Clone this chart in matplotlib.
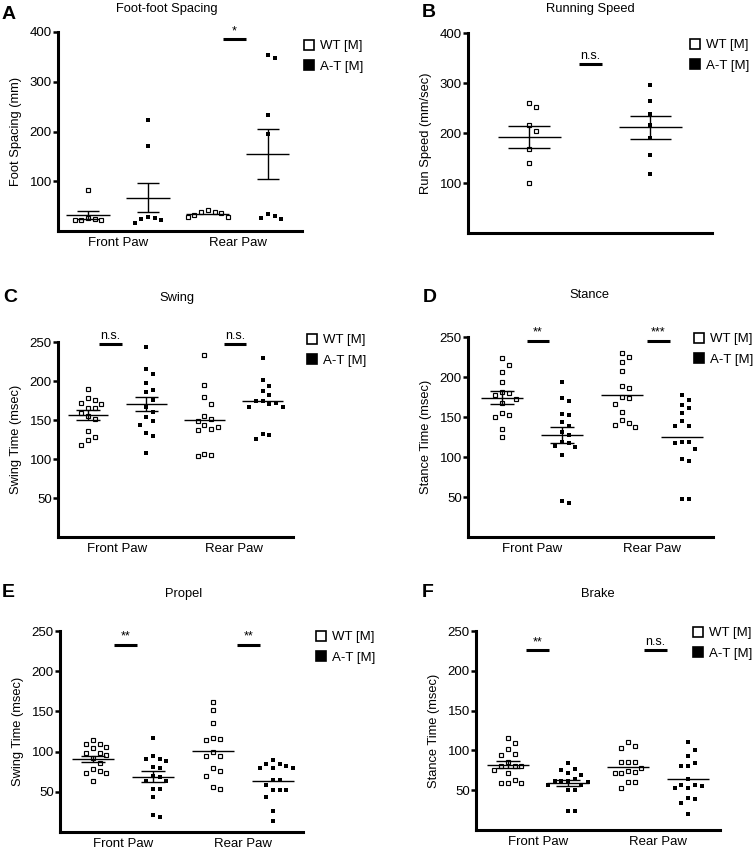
import matplotlib
matplotlib.use("Agg")
import matplotlib.pyplot as plt
from matplotlib.lines import Line2D
import numpy as np

plt.rcParams["font.family"] = ["Liberation Sans", "DejaVu Sans"]
plt.rcParams["font.size"] = 9.3

FIG_W, FIG_H = 755, 848

GROUP_LABELS = ["WT [M]", "A-T [M]"]
PAW_LABELS = ["Front Paw", "Rear Paw"]

# A - foot-foot spacing (mm)
spacing_wt_front = [83, 26, 22, 22, 22, 24]
spacing_at_front = [223, 170, 26, 23, 17, 28, 25]
spacing_wt_rear = [38, 33, 42, 29, 39, 29, 37]
spacing_at_rear = [353, 347, 233, 194, 31, 25, 27, 35]
spacing_means = [33, 67, 35, 155]
spacing_sems = [8, 29, 0, 51]
spacing_sig = ["", "*"]

# B - running speed (mm/sec)
run_wt = [260, 252, 216, 204, 168, 140, 100]
run_at = [296, 264, 238, 216, 190, 156, 118]
run_means = [192, 212]
run_sems = [22, 23]
run_sig = ["n.s."]

# C - swing time (msec)
swing_wt_front = [190, 178, 176, 172, 171, 166, 165, 159, 155, 151, 136, 128, 124, 118]
swing_at_front = [244, 215, 209, 197, 188, 186, 176, 167, 160, 154, 149, 144, 133, 129, 108]
swing_wt_rear = [233, 195, 180, 171, 155, 151, 149, 143, 138, 137, 141, 107, 104, 105]
swing_at_rear = [229, 201, 194, 187, 182, 175, 174, 170, 167, 167, 172, 132, 131, 126]
swing_means = [156.5, 170, 150.5, 175]
swing_sems = [6, 9, 0, 0]
swing_sig = ["n.s.", "n.s."]

# D - stance time (msec)
stance_wt_front = [224, 215, 206, 194, 181, 178, 180, 172, 168, 155, 150, 152, 135, 125]
stance_at_front = [194, 174, 170, 154, 152, 144, 139, 131, 127, 117, 119, 114, 113, 103, 42, 45]
stance_wt_rear = [225, 230, 219, 208, 189, 186, 175, 174, 166, 156, 142, 138, 140, 146]
stance_at_rear = [177, 171, 161, 165, 155, 145, 139, 139, 119, 119, 117, 110, 97, 95, 47, 48]
stance_means = [174, 127.6, 178, 125.5]
stance_sems = [8, 10.5, 0, 0]
stance_sig = ["**", "***"]

# E - propel (msec)
propel_wt_front = [114, 109, 106, 109, 104, 98, 98, 96, 92, 86, 78, 76, 73, 73, 64]
propel_at_front = [117, 95, 91, 91, 88, 81, 79, 70, 64, 64, 68, 54, 53, 44, 19, 21]
propel_wt_rear = [162, 152, 136, 117, 115, 116, 100, 95, 95, 76, 79, 70, 53, 56]
propel_at_rear = [89, 82, 84, 79, 79, 80, 84, 65, 65, 58, 52, 52, 52, 44, 26, 14]
propel_means = [91, 68.7, 101, 64]
propel_sems = [4, 7, 0, 0]
propel_sig = ["**", "**"]

# F - brake (msec)
brake_wt_front = [116, 109, 102, 96, 94, 86, 81, 80, 80, 76, 72, 59, 59, 59, 63]
brake_at_front = [84, 77, 72, 76, 69, 61, 60, 61, 61, 64, 57, 57, 50, 50, 24, 24]
brake_wt_rear = [111, 106, 103, 86, 86, 86, 78, 74, 72, 72, 73, 60, 60, 53]
brake_at_rear = [111, 101, 93, 84, 81, 81, 64, 56, 55, 53, 53, 56, 39, 40, 34, 20]
brake_means = [82, 59, 79.3, 64]
brake_sems = [4.5, 4, 0, 0]
brake_sig = ["**", "n.s."]


def fx(px):
    return px / FIG_W


def fy(py):
    return 1 - py / FIG_H


def swarm_x(ax, x0, values, step=6.7, vsize=8.0):
    """Beeswarm-style x positions, computed in pixel space."""
    pix = ax.transData.transform(np.column_stack([np.full(len(values), x0), values]))
    cx = pix[0, 0]
    placed = []
    xs = np.zeros(len(values))
    for i in np.argsort(values)[::-1]:
        py = pix[i, 1]
        for k in [0, 1, -1, 2, -2, 3, -3, 4, -4]:
            px = cx + k * step
            if all(abs(px - qx) >= step - 0.5 or abs(py - qy) >= vsize for qx, qy in placed):
                break
        placed.append((px, py))
        xs[i] = px
    inv = ax.transData.inverted()
    return inv.transform(np.column_stack([xs, pix[:, 1]]))[:, 0]


PANELS = [
    dict(letter="A", title="Foot-foot Spacing", ylabel="Foot Spacing (mm)",
         groups=[spacing_wt_front, spacing_at_front, spacing_wt_rear, spacing_at_rear],
         means=spacing_means, sems=spacing_sems, sig=spacing_sig,
         box=(58, 32, 302, 231), xlim=(0.5, 4.57), ylim=(0, 400), yticks=[100, 200, 300, 400],
         letter_xy=(2, 6), title_xy=(167, 9), legend_xy=(302, 40),
         sig_pos=[None, (3.25, 3.63, 385)], hw=0.36, cw=0.18),
    dict(letter="B", title="Running Speed", ylabel="Run Speed (mm/sec)",
         groups=[run_wt, run_at], means=run_means, sems=run_sems, sig=run_sig,
         box=(468, 33, 712, 233), xlim=(0.496, 2.51), ylim=(0, 400), yticks=[100, 200, 300, 400],
         letter_xy=(422, 4), title_xy=(590, 9), legend_xy=(688, 39),
         sig_pos=[(1.415, 1.6, 338)], hw=0.26, cw=0.17),
    dict(letter="C", title="Swing", ylabel="Swing Time (msec)",
         groups=[swing_wt_front, swing_at_front, swing_wt_rear, swing_at_rear],
         means=swing_means, sems=swing_sems, sig=swing_sig,
         box=(58, 342, 293, 537), xlim=(0.485, 4.52), ylim=(0, 250), yticks=[50, 100, 150, 200, 250],
         letter_xy=(3, 289), title_xy=(177, 298), legend_xy=(305, 334),
         sig_pos=[(1.19, 1.58, 247), (3.34, 3.72, 247)], hw=0.35, cw=0.2),
    dict(letter="D", title="Stance", ylabel="Stance Time (msec)",
         groups=[stance_wt_front, stance_at_front, stance_wt_rear, stance_at_rear],
         means=stance_means, sems=stance_sems, sig=stance_sig,
         box=(468, 337, 713, 537), xlim=(0.43, 4.52), ylim=(0, 250), yticks=[50, 100, 150, 200, 250],
         letter_xy=(423, 289), title_xy=(589, 295), legend_xy=(692, 333),
         sig_pos=[(1.42, 1.78, 245), (3.42, 3.8, 245)], hw=0.35, cw=0.2),
    dict(letter="E", title="Propel", ylabel="Swing Time (msec)",
         groups=[propel_wt_front, propel_at_front, propel_wt_rear, propel_at_rear],
         means=propel_means, sems=propel_sems, sig=propel_sig,
         box=(60, 631, 303, 832), xlim=(0.45, 4.5), ylim=(0, 250), yticks=[50, 100, 150, 200, 250],
         letter_xy=(2, 584), title_xy=(184, 594), legend_xy=(314, 631),
         sig_pos=[(1.35, 1.73, 232.6), (3.4, 3.78, 232.6)], hw=0.35, cw=0.2),
    dict(letter="F", title="Brake", ylabel="Stance Time (msec)",
         groups=[brake_wt_front, brake_at_front, brake_wt_rear, brake_at_rear],
         means=brake_means, sems=brake_sems, sig=brake_sig,
         box=(476, 631, 720, 830), xlim=(0.47, 4.53), ylim=(0, 250), yticks=[50, 100, 150, 200, 250],
         letter_xy=(422, 584), title_xy=(598, 594), legend_xy=(691, 627),
         sig_pos=[(1.3, 1.68, 226), (3.27, 3.65, 226)], hw=0.35, cw=0.2),
]


def draw_panel(fig, p):
    l, t, r, b = p["box"]
    ax = fig.add_axes([fx(l), fy(b), (r - l) / FIG_W, (b - t) / FIG_H])
    ax.set_xlim(*p["xlim"])
    ax.set_ylim(*p["ylim"])
    ax.set_yticks(p["yticks"])
    for side in ["top", "right"]:
        ax.spines[side].set_visible(False)
    for side in ["left", "bottom"]:
        ax.spines[side].set_linewidth(2.2)
    ax.tick_params(axis="y", direction="out", length=3.5, width=1.8, pad=1, labelsize=9.5)
    ax.tick_params(axis="x", length=0, pad=4, labelsize=9.5)
    if len(p["groups"]) == 4:
        ax.set_xticks([1.5, 3.5])
        ax.set_xticklabels(PAW_LABELS)
    else:
        ax.set_xticks([])

    for i, vals in enumerate(p["groups"]):
        pos = i + 1
        filled = i % 2 == 1
        xs = swarm_x(ax, pos, vals)
        if filled:
            ax.plot(xs, vals, "s", ms=3.4, mfc="black", mec="black", mew=0, zorder=2, clip_on=False)
        else:
            ax.plot(xs, vals, "s", ms=3.2, mfc="white", mec="black", mew=0.85, zorder=2, clip_on=False)
        m, s = p["means"][i], p["sems"][i]
        ax.hlines(m, pos - p["hw"], pos + p["hw"], color="black", lw=1.0, zorder=3)
        if s > 0:
            ax.vlines(pos, m - s, m + s, color="black", lw=1.0, zorder=3)
            ax.hlines([m - s, m + s], pos - p["cw"], pos + p["cw"], color="black", lw=1.0, zorder=3)

    for label, sp in zip(p["sig"], p["sig_pos"]):
        if not label or sp is None:
            continue
        x0, x1, y = sp
        ax.plot([x0, x1], [y, y], color="black", lw=2.2, solid_capstyle="butt", clip_on=False)
        ax.annotate(label, xy=((x0 + x1) / 2, y), xytext=(0, 1.5), textcoords="offset points",
                    ha="center", va="bottom", fontsize=9)

    ax.set_ylabel(p["ylabel"], fontsize=9.3)
    ax.yaxis.set_label_coords(-36 / (r - l), 0.5)

    handles = [
        Line2D([], [], marker="s", ls="none", ms=7, mfc="white", mec="black", mew=1.2),
        Line2D([], [], marker="s", ls="none", ms=7, mfc="black", mec="black", mew=1.2),
    ]
    lx, ly = p["legend_xy"]
    ax.legend(handles, GROUP_LABELS, loc="upper left", bbox_to_anchor=(fx(lx), fy(ly)),
              bbox_transform=fig.transFigure, frameon=False, borderpad=0, borderaxespad=0,
              handlelength=1.0, handletextpad=0.4, labelspacing=0.64, fontsize=9.5)

    fig.text(fx(p["letter_xy"][0]), fy(p["letter_xy"][1]), p["letter"],
             fontsize=14, fontweight="bold", ha="left", va="top")
    fig.text(fx(p["title_xy"][0]), fy(p["title_xy"][1]), p["title"],
             fontsize=9.3, ha="center", va="center")
    return ax


def main():
    fig = plt.figure(figsize=(FIG_W / 100, FIG_H / 100), dpi=100)
    for p in PANELS:
        draw_panel(fig, p)
    fig.savefig("out.png", dpi=100, facecolor="white")
    plt.close(fig)


if __name__ == "__main__":
    main()
